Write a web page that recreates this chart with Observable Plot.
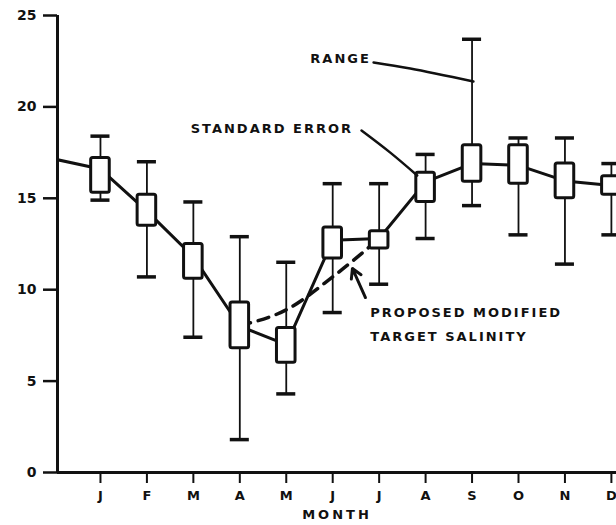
<!DOCTYPE html>
<html>
<head>
<meta charset="utf-8">
<script src="https://cdn.jsdelivr.net/npm/d3@7"></script>
<script src="https://cdn.jsdelivr.net/npm/@observablehq/plot@0.6"></script>
<style>
  html, body { margin: 0; padding: 0; background: #fff; }
</style>
</head>
<body>
<div id="chart"></div>
<script>
// ---- data ----
const months = [1, 2, 3, 4, 5, 6, 7, 8, 9, 10, 11, 12];
const monthLabels = ["J", "F", "M", "A", "M", "J", "J", "A", "S", "O", "N", "D"];
const meanValue  = [16.6, 14.3, 11.8, 8.0, 7.0, 12.7, 12.8, 15.9, 16.9, 16.8, 15.95, 15.7];
const seHigh     = [17.2, 15.2, 12.5, 9.3, 7.9, 13.4, 13.2, 16.4, 17.9, 17.9, 16.9, 16.2];
const seLow      = [15.3, 13.5, 10.6, 6.8, 6.0, 11.7, 12.25, 14.8, 15.9, 15.8, 15.0, 15.2];
const rangeHigh  = [18.4, 17.0, 14.8, 12.9, 11.5, 15.8, 15.8, 17.4, 23.7, 18.3, 18.3, 16.9];
const rangeLow   = [14.9, 10.7, 7.4, 1.8, 4.3, 8.75, 10.3, 12.8, 14.6, 13.0, 11.4, 13.0];
const priorMonth = 0;            // previous December, off the left edge
const priorValue = 17.15;

// proposed modified target salinity (dashed)
const targetMonths = [4, 5, 6, 7];
const targetValue  = [8.05, 8.9, 10.7, 12.8];

const yTicks = [0, 5, 10, 15, 20, 25];
const xDomain = [0.075, 12.11];
const yDomain = [0, 25];

// annotations
const calloutLabels = ["RANGE", "STANDARD ERROR"];
const calloutMonth  = [6.17, 4.69];
const calloutValue  = [22.65, 18.8];
const targetLabels  = ["PROPOSED MODIFIED", "TARGET SALINITY"];
const targetLabelMonth = [6.81, 6.81];
const targetLabelValue = [8.75, 7.44];
const rangeLeaderMonth = [6.88, 7.67, 9.03];
const rangeLeaderValue = [22.43, 22.1, 21.39];
const seLeaderMonth = [6.62, 7.24, 7.82];
const seLeaderValue = [18.71, 17.5, 16.25];
const arrowFrom = {m: 6.705, v: 9.57};
const arrowTo   = {m: 6.425, v: 11.16};

// ---- tables built from the arrays ----
const rows = months.map((m, i) => ({
  m, label: monthLabels[i], mean: meanValue[i],
  seHi: seHigh[i], seLo: seLow[i], hi: rangeHigh[i], lo: rangeLow[i]
}));
const meanLine = [{m: priorMonth, v: priorValue}, ...rows.map(r => ({m: r.m, v: r.mean}))];
const target = targetMonths.map((m, i) => ({m, v: targetValue[i]}));
const callouts = calloutLabels.map((t, i) => ({t, m: calloutMonth[i], v: calloutValue[i]}));
const targetNotes = targetLabels.map((t, i) => ({t, m: targetLabelMonth[i], v: targetLabelValue[i]}));
const rangeLeader = rangeLeaderMonth.map((m, i) => ({m, v: rangeLeaderValue[i]}));
const seLeader = seLeaderMonth.map((m, i) => ({m, v: seLeaderValue[i]}));

const capHalf = 0.205;
const boxHalf = 0.2;

const chart = Plot.plot({
  width: 616,
  height: 525,
  marginLeft: 57,
  marginRight: 0,
  marginTop: 15,
  marginBottom: 53,
  style: {fontFamily: "'DejaVu Sans', sans-serif", fontWeight: "bold", fontSize: "13px", color: "#111", background: "#fff"},
  x: {domain: xDomain},
  y: {domain: yDomain},
  marks: [
    Plot.axisY({ticks: yTicks, tickSize: 14, tickPadding: 7, fontSize: 14, strokeWidth: 2.5, label: null, tickFormat: d => d}),
    Plot.axisX({ticks: months, tickFormat: (d, i) => monthLabels[i], tickSize: 11, tickPadding: 7, fontSize: 13, strokeWidth: 2,
                label: "MONTH", labelAnchor: "center", labelArrow: "none", labelOffset: 46}),
    Plot.ruleX([xDomain[0]], {y1: yDomain[0], y2: yDomain[1], strokeWidth: 3, stroke: "#111"}),
    Plot.ruleY([0], {strokeWidth: 3, stroke: "#111"}),
    // range whiskers
    Plot.ruleX(rows, {x: "m", y1: "lo", y2: "hi", strokeWidth: 1.8, stroke: "#111"}),
    Plot.ruleY(rows, {y: "hi", x1: d => d.m - capHalf, x2: d => d.m + capHalf, strokeWidth: 3.5, stroke: "#111"}),
    Plot.ruleY(rows, {y: "lo", x1: d => d.m - capHalf, x2: d => d.m + capHalf, strokeWidth: 3.5, stroke: "#111"}),
    // dashed target line
    Plot.line(target, {x: "m", y: "v", stroke: "#111", strokeWidth: 3.5, strokeDasharray: "11,8", curve: "monotone-x"}),
    // mean line
    Plot.line(meanLine, {x: "m", y: "v", stroke: "#111", strokeWidth: 3, clip: true}),
    // standard error boxes
    Plot.rect(rows, {x1: d => d.m - boxHalf, x2: d => d.m + boxHalf, y1: "seLo", y2: "seHi",
                     fill: "#fff", stroke: "#111", strokeWidth: 3, rx: 2}),
    // annotation leaders
    Plot.line(rangeLeader, {x: "m", y: "v", stroke: "#111", strokeWidth: 2.5, curve: "catmull-rom"}),
    Plot.line(seLeader, {x: "m", y: "v", stroke: "#111", strokeWidth: 2.5, curve: "catmull-rom"}),
    Plot.arrow([arrowFrom], {x1: "m", y1: "v", x2: () => arrowTo.m, y2: () => arrowTo.v,
                      stroke: "#111", strokeWidth: 3, headLength: 10}),
    Plot.text(callouts, {x: "m", y: "v", text: "t", textAnchor: "middle", fontSize: 13, fontWeight: "bold", fill: "#111"}),
    Plot.text(targetNotes, {x: "m", y: "v", text: "t", textAnchor: "start", fontSize: 13, fontWeight: "bold", fill: "#111"})
  ]
});

// spaced lettering like the stencilled original
d3.select(chart).selectAll("g[aria-label='text'] text").attr("letter-spacing", "2px");
d3.select(chart).selectAll("g[aria-label='x-axis label'] text").attr("letter-spacing", "3px");
document.getElementById("chart").appendChild(chart);
</script>
</body>
</html>
